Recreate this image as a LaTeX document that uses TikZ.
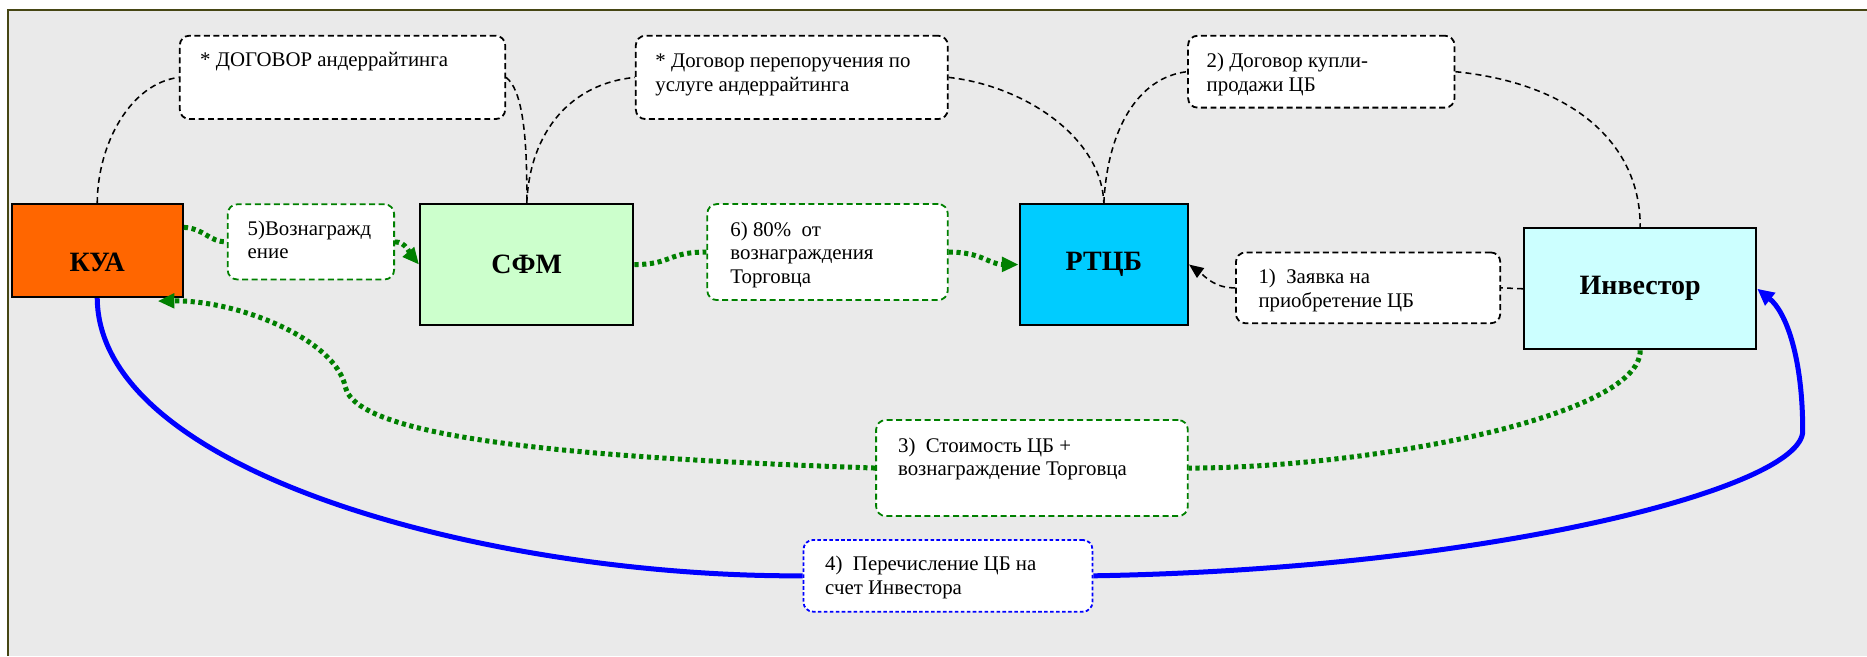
\documentclass[tikz,border=0pt]{standalone}
\usepackage{fontspec}
\setmainfont{Liberation Serif}
\usetikzlibrary{arrows.meta,calc}
\definecolor{bg}{HTML}{EAEAEA}
\definecolor{frameC}{RGB}{70,70,20}
\definecolor{kuaC}{HTML}{FF6600}
\definecolor{sfmC}{HTML}{CCFFCC}
\definecolor{rtcbC}{HTML}{00CCFF}
\definecolor{invC}{HTML}{CCFFFF}
\definecolor{grn}{HTML}{008000}
\definecolor{blu}{HTML}{0000FF}
\begin{document}
\begin{tikzpicture}[x=1pt,y=-1pt,
  ent/.style={draw=black, line width=1.7pt, inner sep=0pt, font=\bfseries\fontsize{23.5}{26}\selectfont},
  notebox/.style={fill=white, rounded corners=8pt, inner sep=0pt, line width=1.5pt},
  blacknote/.style={notebox, draw=black, dash pattern=on 5pt off 3pt},
  greennote/.style={notebox, draw=grn, dash pattern=on 5pt off 3pt},
  bluenote/.style={notebox, draw=blu, dash pattern=on 3pt off 2pt},
  txt/.style={anchor=north west, inner sep=0pt, align=left, font=\fontsize{17.5}{20}\selectfont},
  link/.style={draw=black, line width=1.3pt, dash pattern=on 5pt off 3.5pt},
  flow/.style={draw=grn, line width=4.2pt, dash pattern=on 3.5pt off 3pt},
  pay/.style={draw=blu, line width=4.2pt},
  gtip/.style={-{Triangle[length=14pt,width=12pt]}},
]
\useasboundingbox (0,0) rectangle (1568,551);
\fill[white] (0,0) rectangle (1568,551);
\fill[bg] (6.7,8.6) rectangle (1568,551);
\draw[frameC, line width=1.3pt] (1568,8.6) -- (6.7,8.6) -- (6.7,551);

% entities
\node[ent, fill=kuaC, minimum width=143.9pt, minimum height=78.1pt, text height=35pt, text depth=0pt] (kua) at (81.65,210.45) {КУА};
\node[ent, fill=sfmC, minimum width=179.2pt, minimum height=101.6pt] (sfm) at (442.4,222.2) {СФМ};
\node[ent, fill=rtcbC, minimum width=141.5pt, minimum height=101.6pt] (rtcb) at (927.05,222.2) {РТЦБ};
\node[ent, fill=invC, minimum width=195pt, minimum height=101.7pt] (inv) at (1377.5,242.55) {Инвестор};

% notes
\node[blacknote, minimum width=273.3pt, minimum height=70pt] (b1) at (287.65,65) {};
\node[txt] at ($(b1.north west)+(17.7,12)$) {\strut * ДОГОВОР андеррайтинга};
\node[blacknote, minimum width=262pt, minimum height=70pt] (b2) at (665,65) {};
\node[txt] at ($(b2.north west)+(17,13.4)$) {\strut * Договор перепоручения по\\услуге андеррайтинга};
\node[blacknote, minimum width=223.8pt, minimum height=60.4pt] (b3) at (1109.7,60.2) {};
\node[txt] at ($(b3.north west)+(16.2,13.4)$) {\strut 2) Договор купли-\\продажи ЦБ};
\node[blacknote, minimum width=222pt, minimum height=59.5pt] (c1) at (1149,241.75) {};
\node[txt] at ($(c1.north west)+(19.5,12.8)$) {\strut 1)\ \ Заявка на\\приобретение ЦБ};
\node[greennote, minimum width=139.8pt, minimum height=63.1pt] (c5) at (261.1,203.15) {};
\node[txt] at ($(c5.north west)+(17.4,12.4)$) {\strut 5)Вознагражд\\ение};
\node[greennote, minimum width=202pt, minimum height=80.6pt] (c6) at (695,211.7) {};
\node[txt] at ($(c6.north west)+(20,13.4)$) {\strut 6) 80\%\ \ от\\вознаграждения\\Торговца};
\node[greennote, minimum width=261.8pt, minimum height=80.6pt] (c3) at (866.7,393.1) {};
\node[txt] at ($(c3.north west)+(19,13.4)$) {\strut 3)\ \ Стоимость ЦБ +\\вознаграждение Торговца};
\node[bluenote, minimum width=242.7pt, minimum height=60.2pt] (c4) at (796.15,483.6) {};
\node[txt] at ($(c4.north west)+(18.8,12.5)$) {\strut 4)\ \ Перечисление ЦБ на\\счет Инвестора};

% contract links
\draw[link] (kua.north) .. controls (82,120) and (110,70) .. (b1.west);
\draw[link] (b1.east) .. controls (438,75) and (443,110) .. (sfm.north);
\draw[link] (sfm.north) .. controls (445,110) and (480,70) .. (b2.west);
\draw[link] (b2.east) .. controls (860,72) and (925,115) .. (rtcb.north);
\draw[link] (rtcb.north) .. controls (930,110) and (955,65) .. (b3.west);
\draw[link] (b3.east) .. controls (1320,70) and (1378,120) .. (inv.north);
\draw[link] (inv.west) -- (c1.east);
\draw[link, -{Triangle[length=12pt,width=10pt]}] (c1.west) .. controls (1020,242) and (1012,232) .. (rtcb.east);

% money flows
\draw[flow] ($(kua.north east)+(0,20.4)$) .. controls (172,192) and (175,203) .. (c5.west);
\draw[flow, gtip] (c5.east) .. controls (341,203) and (345,214) .. (sfm.west);
\draw[flow] (sfm.east) .. controls (565,222) and (560,211.7) .. (c6.west);
\draw[flow, gtip] (c6.east) .. controls (825,211.7) and (830,222) .. (rtcb.west);
\draw[flow] (inv.south) .. controls (1378,350) and (1150,393) .. (c3.east);
\draw[flow, gtip] (c3.west) .. controls (500,385) and (300,370) .. (290,325) .. controls (282,285) and (200,252) .. ($(kua.south east)+(-22,2.5)$);

% securities transfer
\draw[pay] (kua.south) .. controls (83,400) and (420,485) .. (c4.west);
\draw[pay, -{Triangle[length=14pt,width=13pt]}] (c4.east) .. controls (1250,478) and (1514,410) .. (1514,362) .. controls (1514,300) and (1500,262) .. (inv.east);
\end{tikzpicture}
\end{document}
